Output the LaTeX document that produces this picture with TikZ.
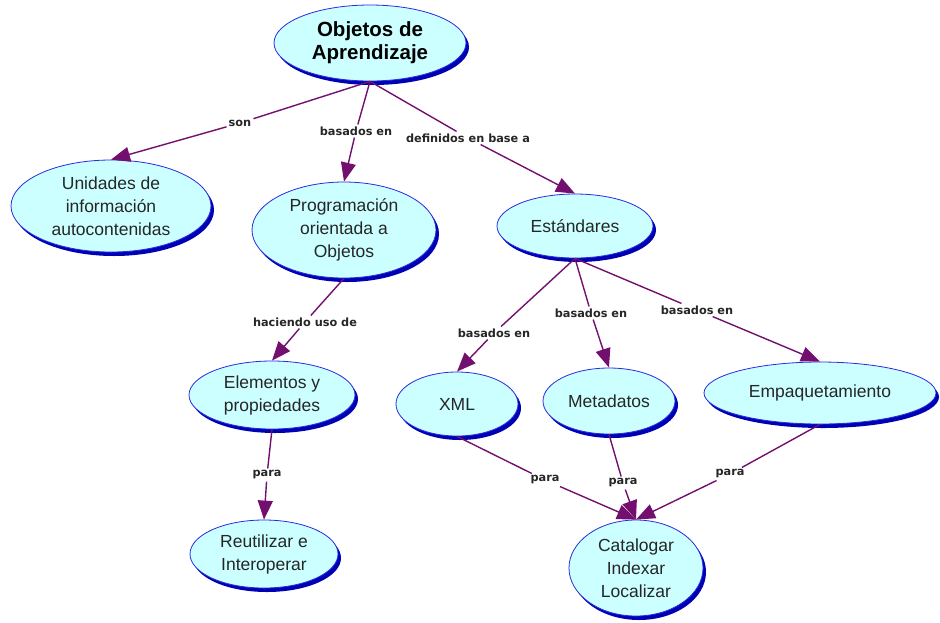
\documentclass[tikz,border=0pt]{standalone}
\usepackage{fontspec}
\setmainfont{Liberation Sans}
\newfontfamily\labfont{DejaVu Sans}
\usetikzlibrary{shapes.geometric,arrows.meta,shadows}
\definecolor{nodefill}{HTML}{CCFFFF}
\definecolor{nodeline}{HTML}{2A2AE0}
\definecolor{nodeshadow}{HTML}{0000B4}
\definecolor{linkcol}{HTML}{73106F}
\tikzset{
  concept/.style={ellipse, fill=nodefill, draw=nodeline, line width=0.8pt,
    inner sep=0pt, align=center, text=black!85,
    font=\fontsize{17.5}{23}\selectfont,
    drop shadow={shadow xshift=3pt, shadow yshift=-4pt, fill=nodeshadow, opacity=1}},
  title/.style={concept, font=\bfseries\fontsize{20.5}{23}\selectfont, text=black},
  lab/.style={fill=white, inner sep=2pt, text=black!85,
    font=\labfont\bfseries\fontsize{11.3}{13}\selectfont},
  link/.style={draw=linkcol, line width=1.4pt},
  arr/.style={link, -{Triangle[length=19pt,width=15pt]}},
}
\begin{document}
\begin{tikzpicture}[x=1pt,y=-1pt]
\useasboundingbox (0,0) rectangle (940,622);
% concepts
\node[title, minimum width=192pt, minimum height=76pt] (obj) at (370,43) {Objetos de\\Aprendizaje};
\node[concept, minimum width=200pt, minimum height=92pt] (unid) at (111,206) {Unidades de\\información\\autocontenidas};
\node[concept, minimum width=184pt, minimum height=96pt] (prog) at (344,230) {Programación\\orientada a\\Objetos};
\node[concept, minimum width=156pt, minimum height=64pt] (est) at (575,226) {Estándares};
\node[concept, minimum width=166pt, minimum height=68pt] (elem) at (272,395) {Elementos y\\propiedades};
\node[concept, minimum width=122pt, minimum height=64pt] (xml) at (457,404) {XML};
\node[concept, minimum width=132pt, minimum height=66pt] (meta) at (609,401) {Metadatos};
\node[concept, minimum width=232pt, minimum height=62pt] (emp) at (820,393) {Empaquetamiento};
\node[concept, minimum width=148pt, minimum height=68pt] (reut) at (264,554) {Reutilizar e\\Interoperar};
\node[concept, minimum width=134pt, minimum height=96pt] (cat) at (636,568) {Catalogar\\Indexar\\Localizar};
% labels
\node[lab] (l1) at (240,123) {son};
\node[lab] (l2) at (356,131) {basados en};
\node[lab] (l3) at (468,138) {definidos en base a};
\node[lab] (l4) at (305,322) {haciendo uso de};
\node[lab] (l5) at (267,475) {para};
\node[lab] (l6) at (494,333) {basados en};
\node[lab] (l7) at (591,313) {basados en};
\node[lab] (l8) at (697,310) {basados en};
\node[lab] (l9) at (545,480) {para};
\node[lab] (l10) at (623,483) {para};
\node[lab] (l11) at (730,474) {para};
% links
\draw[link] (obj.south) -- (l1); \draw[arr] (l1) -- (unid.north);
\draw[link] (obj.south) -- (l2); \draw[arr] (l2) -- (prog.north);
\draw[link] (obj.south) -- (l3); \draw[arr] (l3) -- (est.north);
\draw[link] (prog.south) -- (l4); \draw[arr] (l4) -- (elem.north);
\draw[link] (elem.south) -- (l5); \draw[arr] (l5) -- (reut.north);
\draw[link] (est.south) -- (l6); \draw[arr] (l6) -- (xml.north);
\draw[link] (est.south) -- (l7); \draw[arr] (l7) -- (meta.north);
\draw[link] (est.south) -- (l8); \draw[arr] (l8) -- (emp.north);
\draw[link] (xml.south) -- (l9); \draw[arr] (l9) -- (cat.north);
\draw[link] (meta.south) -- (l10); \draw[arr] (l10) -- (cat.north);
\draw[link] (emp.south) -- (l11); \draw[arr] (l11) -- (cat.north);
\end{tikzpicture}
\end{document}
